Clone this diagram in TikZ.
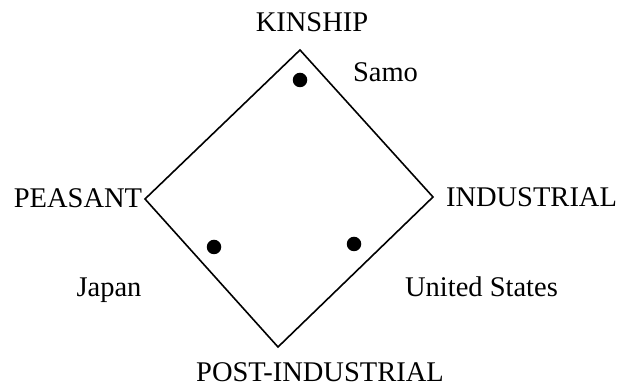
\documentclass[tikz,border=0pt]{standalone}
\usepackage{fontspec}
\setmainfont{Liberation Serif}
\begin{document}
\begin{tikzpicture}[x=1pt,y=1pt,
  lbl/.style={inner sep=0pt, anchor=base, font=\fontsize{28.5}{34}\selectfont},
  dotmark/.style={circle, fill=black, inner sep=0pt, minimum size=14.5pt},
  edge/.style={line width=1.6pt, line join=miter}]
\useasboundingbox (0,0) rectangle (621,387);
\coordinate (T) at (300,337);
\coordinate (L) at (145,188);
\coordinate (R) at (433,190);
\coordinate (B) at (278,40);
\draw[edge] (T) -- (R) -- (B) -- (L) -- cycle;
\node[dotmark] (d1) at (300,307) {};
\node[dotmark] (d2) at (214,140) {};
\node[dotmark] (d3) at (354,143) {};
\node[lbl] (kin) at (312,355) {KINSHIP};
\node[lbl] (samo) at (385.5,305) {Samo};
\node[lbl] (pea) at (78,179) {PEASANT};
\node[lbl] (ind) at (531.5,180) {INDUSTRIAL};
\node[lbl] (jap) at (109,90) {Japan};
\node[lbl] (us) at (481.5,90) {United States};
\node[lbl] (post) at (320,5) {POST-INDUSTRIAL};
\end{tikzpicture}
\end{document}
